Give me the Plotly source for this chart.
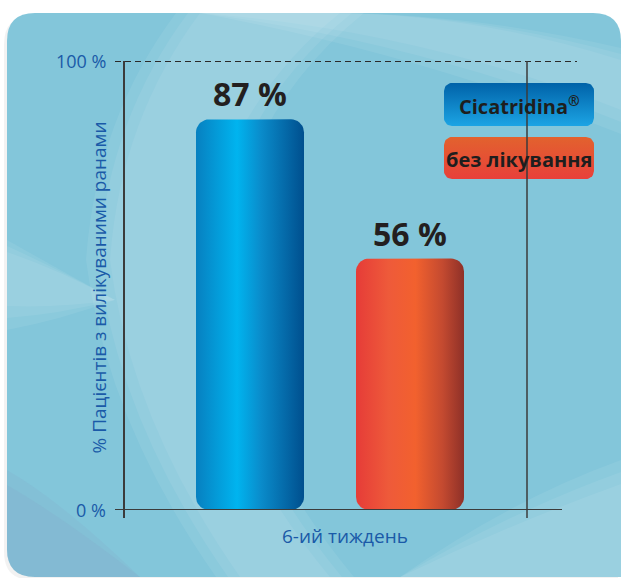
import numpy as np
import plotly.graph_objects as go

# ---- data ----
categories = ["Cicatridina<sup>®</sup>", "без лікування"]
values = [87, 56]
value_labels = ["87 %", "56 %"]
y_tick_vals = [0, 100]
y_tick_text = ["0 %", "100 %"]
x_label = "6-ий тиждень"
y_title = "% Пацієнтів з вилікуваними ранами"

bar_scales = [
    [[0, "#0780c0"], [0.38, "#00b4ef"], [0.6, "#0a8ccb"], [1, "#004f8e"]],
    [[0, "#e63c38"], [0.3, "#ee5a3a"], [0.55, "#f2612e"], [0.8, "#c44a30"], [1, "#8e3028"]],
]
legend_scales = [
    [[0, "#1ca4e4"], [1, "#0062a8"]],
    [[0, "#e8403a"], [1, "#e2622e"]],
]

W, H = 622, 578
# plot area in pixels
PX0, PX1 = 124, 527
PY_TOP, PY_BOT = 61, 510
UNIT = 160.0  # px between category centres
X_LEFT = -(250 - PX0) / UNIT
X_RIGHT = 1 + (PX1 - 410) / UNIT
BAR_W = 108 / UNIT
RX = 13 / UNIT
RY = 13 / (PY_BOT - PY_TOP) * 100


def rounded_rect(x0, x1, y0, y1, rx, ry, n=10):
    xs, ys = [], []
    corners = [
        (x1 - rx, y1 - ry, 0, np.pi / 2),
        (x0 + rx, y1 - ry, np.pi / 2, np.pi),
        (x0 + rx, y0 + ry, np.pi, 1.5 * np.pi),
        (x1 - rx, y0 + ry, 1.5 * np.pi, 2 * np.pi),
    ]
    for cx, cy, a0, a1 in corners:
        t = np.linspace(a0, a1, n)
        xs.extend(cx + rx * np.cos(t))
        ys.extend(cy + ry * np.sin(t))
    xs.append(xs[0])
    ys.append(ys[0])
    return xs, ys


fig = go.Figure()

# ---- legend boxes (pixel coords) ----
leg_boxes = [(444, 594, 83, 126), (444, 594, 137, 179)]
for (bx0, bx1, by0, by1), cs, name in zip(leg_boxes, legend_scales, categories):
    xs, ys = rounded_rect(bx0, bx1, by0, by1, 8, 8)
    fig.add_trace(go.Scatter(
        x=xs, y=ys, mode="lines", fill="toself", line=dict(width=0),
        fillgradient=dict(type="vertical", colorscale=cs),
        hoverinfo="skip", showlegend=False, xaxis="x", yaxis="y"))
    fig.add_annotation(x=(bx0 + bx1) / 2, y=(by0 + by1) / 2 + 1, xref="x", yref="y",
                       text="<b>%s</b>" % name, showarrow=False,
                       font=dict(family="Open Sans", size=20, color="#1e1e1e"))

# ---- data bars ----
for i, (v, cs) in enumerate(zip(values, bar_scales)):
    xs, ys = rounded_rect(i - BAR_W / 2, i + BAR_W / 2, 0, v, RX, RY)
    fig.add_trace(go.Scatter(
        x=xs, y=ys, mode="lines", fill="toself", line=dict(width=0),
        fillgradient=dict(type="horizontal", colorscale=cs),
        hoverinfo="skip", showlegend=False, xaxis="x2", yaxis="y2"))
    fig.add_annotation(x=i, y=v, xref="x2", yref="y2", text="<b>%s</b>" % value_labels[i],
                       showarrow=False, yanchor="bottom", yshift=2,
                       font=dict(family="Open Sans", size=32, color="#231f20"))

# ---- card background & soft swirl ----
shapes = []
shapes.append(dict(type="path", path="M 4,44 Q 4,16 32,16 L 590,16 Q 618,16 618,44 L 618,580 L 32,580 Q 4,580 4,552 Z",
                   xref="x", yref="y", fillcolor="rgba(0,0,0,0.05)", line=dict(width=0), layer="below"))
card = "M 7,41 Q 7,13 35,13 L 593,13 Q 621,13 621,41 L 621,577 L 35,577 Q 7,577 7,549 Z"
shapes.append(dict(type="path", path=card, xref="x", yref="y",
                   fillcolor="#83c6da", line=dict(width=0), layer="below"))
soft = "rgba(255,255,255,0.07)"
for d in (0, 12, 24):
    shapes.append(dict(type="path",
                       path=f"M {200-d},13 Q {120-d},120 {110-d},260 Q {130-d},420 {240-d},577 "
                            f"L {330+d},577 Q {200+d},420 {200+d},260 Q {220+d},110 {340+d},13 Z",
                       xref="x", yref="y", fillcolor=soft, line=dict(width=0), layer="below"))
    shapes.append(dict(type="path",
                       path=f"M 200,13 Q 420,{30+d} 621,{110+d} L 621,{60-d/2} Q 470,13 330,13 Z",
                       xref="x", yref="y", fillcolor=soft, line=dict(width=0), layer="below"))
    shapes.append(dict(type="path",
                       path=f"M 400,577 Q 510,{500+d} 621,{460+d} L 621,577 Z",
                       xref="x", yref="y", fillcolor=soft, line=dict(width=0), layer="below"))
    shapes.append(dict(type="path",
                       path=f"M 7,{240+d/2} Q 60,270 115,{300} Q 60,{320-d/2} 7,{330-d} Z",
                       xref="x", yref="y", fillcolor=soft, line=dict(width=0), layer="below"))
for d in (0, 15):
    shapes.append(dict(type="path",
                       path=f"M 7,{470+d} Q 60,{500+d} 140,{577} L 35,577 Q 7,577 7,549 Z",
                       xref="x", yref="y", fillcolor="rgba(130,150,190,0.12)", line=dict(width=0), layer="below"))

# axis lines
line_col = "#3b3b3b"
shapes.append(dict(type="line", xref="x", yref="y2", x0=115, x1=577, y0=100, y1=100,
                   line=dict(color="#2a2a2a", width=2, dash="6px,4px")))
shapes.append(dict(type="line", xref="x", yref="y2", x0=115, x1=562, y0=0, y1=0,
                   line=dict(color=line_col, width=2)))
shapes.append(dict(type="line", xref="x", yref="y", x0=PX0, x1=PX0, y0=PY_TOP, y1=518,
                   line=dict(color=line_col, width=2)))
shapes.append(dict(type="line", xref="x", yref="y", x0=PX1, x1=PX1, y0=PY_TOP, y1=518,
                   line=dict(color=line_col, width=1.5)))

fig.update_layout(shapes=shapes)

# tick labels
blue_txt = "#1a5aa8"
for tv, tt in zip(y_tick_vals, y_tick_text):
    fig.add_annotation(x=108, y=tv, xref="x", yref="y2", text=tt, showarrow=False,
                       xanchor="right", font=dict(family="Open Sans", size=18, color=blue_txt))

fig.add_annotation(x=98, y=(117 + 458) / 2, xref="x", yref="y", text=y_title, textangle=-90,
                   showarrow=False, font=dict(family="Open Sans", size=19, color=blue_txt))
fig.add_annotation(x=345, y=536, xref="x", yref="y", text=x_label, showarrow=False,
                   font=dict(family="Open Sans", size=19, color=blue_txt))

fig.update_layout(
    width=W, height=H,
    margin=dict(l=0, r=0, t=0, b=0),
    paper_bgcolor="white", plot_bgcolor="rgba(0,0,0,0)",
    showlegend=False,
    xaxis=dict(domain=[0, 1], range=[0, W], visible=False, fixedrange=True),
    yaxis=dict(domain=[0, 1], range=[H, 0], visible=False, fixedrange=True),
    xaxis2=dict(domain=[PX0 / W, PX1 / W], range=[X_LEFT, X_RIGHT], visible=False,
                anchor="y2", fixedrange=True),
    yaxis2=dict(domain=[(H - PY_BOT) / H, (H - PY_TOP) / H], range=[0, 100], visible=False,
                anchor="x2", fixedrange=True),
)

fig.write_html("out.html", config={"displayModeBar": False})
